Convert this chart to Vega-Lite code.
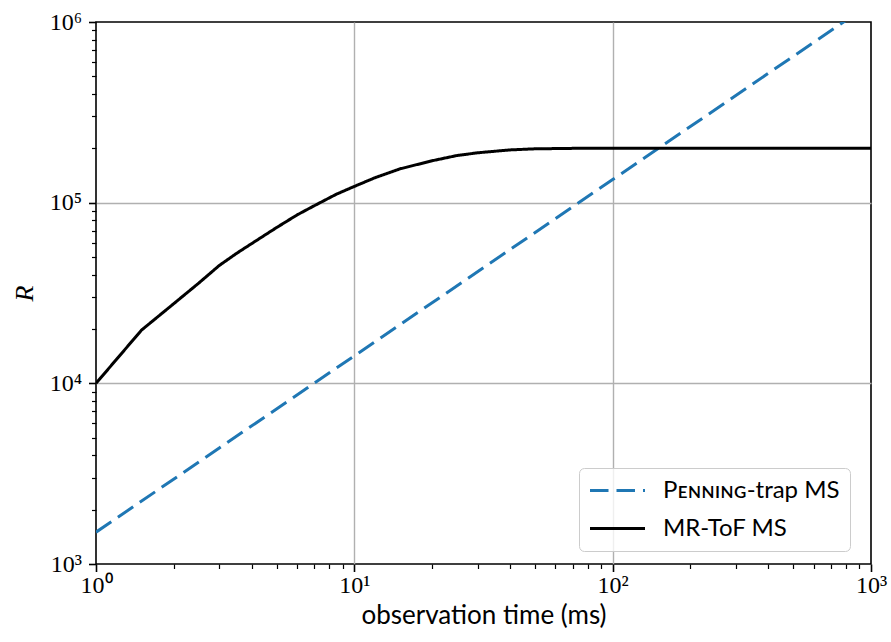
{
  "$schema": "https://vega.github.io/schema/vega-lite/v6.json",
  "width": 775,
  "height": 542,
  "autosize": {"type": "none"},
  "padding": {"left": 96, "top": 22, "right": 20, "bottom": 78},
  "background": "white",
  "config": {
    "view": {"stroke": "#000000", "strokeWidth": 1.6},
    "axis": {
      "domain": false,
      "labelFont": "Liberation Serif",
      "labelFontSize": 24,
      "labelColor": "#000000",
      "titleFont": "Lato",
      "titleFontWeight": "normal",
      "titleFontSize": 26,
      "titleColor": "#000000",
      "tickColor": "#000000",
      "gridColor": "#b0b0b0",
      "gridWidth": 1.4,
      "labelOverlap": false,
      "labelFlush": false,
      "labelBound": false
    }
  },
  "data": {
    "values": [
      {"t": 1, "R": 1500, "series": "Pᴇɴɴɪɴɢ-trap MS"},
      {"t": 10, "R": 14200, "series": "Pᴇɴɴɪɴɢ-trap MS"},
      {"t": 100, "R": 134300, "series": "Pᴇɴɴɪɴɢ-trap MS"},
      {"t": 1000, "R": 1270000, "series": "Pᴇɴɴɪɴɢ-trap MS"},
      {"t": 1, "R": 10000, "series": "MR-ToF MS"},
      {"t": 1.5, "R": 19700, "series": "MR-ToF MS"},
      {"t": 2, "R": 27600, "series": "MR-ToF MS"},
      {"t": 2.5, "R": 35900, "series": "MR-ToF MS"},
      {"t": 3, "R": 44900, "series": "MR-ToF MS"},
      {"t": 3.5, "R": 52400, "series": "MR-ToF MS"},
      {"t": 4, "R": 59300, "series": "MR-ToF MS"},
      {"t": 5, "R": 72800, "series": "MR-ToF MS"},
      {"t": 6, "R": 85500, "series": "MR-ToF MS"},
      {"t": 7, "R": 96200, "series": "MR-ToF MS"},
      {"t": 8.5, "R": 111200, "series": "MR-ToF MS"},
      {"t": 10, "R": 123000, "series": "MR-ToF MS"},
      {"t": 12, "R": 137300, "series": "MR-ToF MS"},
      {"t": 15, "R": 153800, "series": "MR-ToF MS"},
      {"t": 20, "R": 170600, "series": "MR-ToF MS"},
      {"t": 25, "R": 182400, "series": "MR-ToF MS"},
      {"t": 30, "R": 188800, "series": "MR-ToF MS"},
      {"t": 40, "R": 195900, "series": "MR-ToF MS"},
      {"t": 50, "R": 198600, "series": "MR-ToF MS"},
      {"t": 70, "R": 199800, "series": "MR-ToF MS"},
      {"t": 100, "R": 200000, "series": "MR-ToF MS"},
      {"t": 1000, "R": 200000, "series": "MR-ToF MS"}
    ]
  },
  "mark": {"type": "line", "clip": true, "strokeWidth": 3},
  "encoding": {
    "x": {
      "field": "t",
      "type": "quantitative",
      "title": "observation time (ms)",
      "scale": {"type": "log", "domain": [1, 1000], "nice": false},
      "axis": {
        "values": [1,2,3,4,5,6,7,8,9,10,20,30,40,50,60,70,80,90,100,200,300,400,500,600,700,800,900,1000],
        "labelExpr": "datum.value == 1 ? '10⁰' : datum.value == 10 ? '10¹' : datum.value == 100 ? '10²' : datum.value == 1000 ? '10³' : ''",
        "labelPadding": 2,
        "titlePadding": 5,
        "tickSize": {"condition": {"test": "datum.value == 1 || datum.value == 10 || datum.value == 100 || datum.value == 1000", "value": 7.5}, "value": 4.5},
        "tickWidth": {"condition": {"test": "datum.value == 1 || datum.value == 10 || datum.value == 100 || datum.value == 1000", "value": 1.6}, "value": 1.2},
        "gridOpacity": {"condition": {"test": "datum.value == 10 || datum.value == 100", "value": 1}, "value": 0}
      }
    },
    "y": {
      "field": "R",
      "type": "quantitative",
      "title": "R",
      "scale": {"type": "log", "domain": [1000, 1000000], "nice": false},
      "axis": {
        "values": [1000,2000,3000,4000,5000,6000,7000,8000,9000,10000,20000,30000,40000,50000,60000,70000,80000,90000,100000,200000,300000,400000,500000,600000,700000,800000,900000,1000000],
        "labelExpr": "datum.value == 1000 ? '10³' : datum.value == 10000 ? '10⁴' : datum.value == 100000 ? '10⁵' : datum.value == 1000000 ? '10⁶' : ''",
        "labelPadding": 7,
        "titleFont": "Liberation Serif",
        "titleFontStyle": "italic",
        "titleFontSize": 26,
        "titlePadding": 12,
        "tickSize": {"condition": {"test": "datum.value == 1000 || datum.value == 10000 || datum.value == 100000 || datum.value == 1000000", "value": 7.5}, "value": 4.5},
        "tickWidth": {"condition": {"test": "datum.value == 1000 || datum.value == 10000 || datum.value == 100000 || datum.value == 1000000", "value": 1.6}, "value": 1.2},
        "gridOpacity": {"condition": {"test": "datum.value == 10000 || datum.value == 100000", "value": 1}, "value": 0}
      }
    },
    "color": {
      "field": "series",
      "type": "nominal",
      "scale": {"domain": ["Pᴇɴɴɪɴɢ-trap MS", "MR-ToF MS"], "range": ["#1f77b4", "#000000"]},
      "legend": {
        "title": null,
        "orient": "none",
        "legendX": 483,
        "legendY": 446,
        "symbolType": "M-2.5,0H2.5",
        "symbolSize": 484,
        "symbolStrokeWidth": 3,
        "symbolOffset": 16,
        "labelFont": "Lato",
        "labelFontSize": 24,
        "labelLimit": 500,
        "labelColor": "#000000",
        "labelOffset": 33,
        "rowPadding": 13,
        "padding": 10,
        "strokeColor": "#cccccc",
        "fillColor": "rgba(255,255,255,0.8)",
        "cornerRadius": 5
      }
    },
    "strokeDash": {
      "field": "series",
      "type": "nominal",
      "scale": {"domain": ["Pᴇɴɴɪɴɢ-trap MS", "MR-ToF MS"], "range": [[18.5, 8], [1, 0]]},
      "legend": null
    }
  }
}
